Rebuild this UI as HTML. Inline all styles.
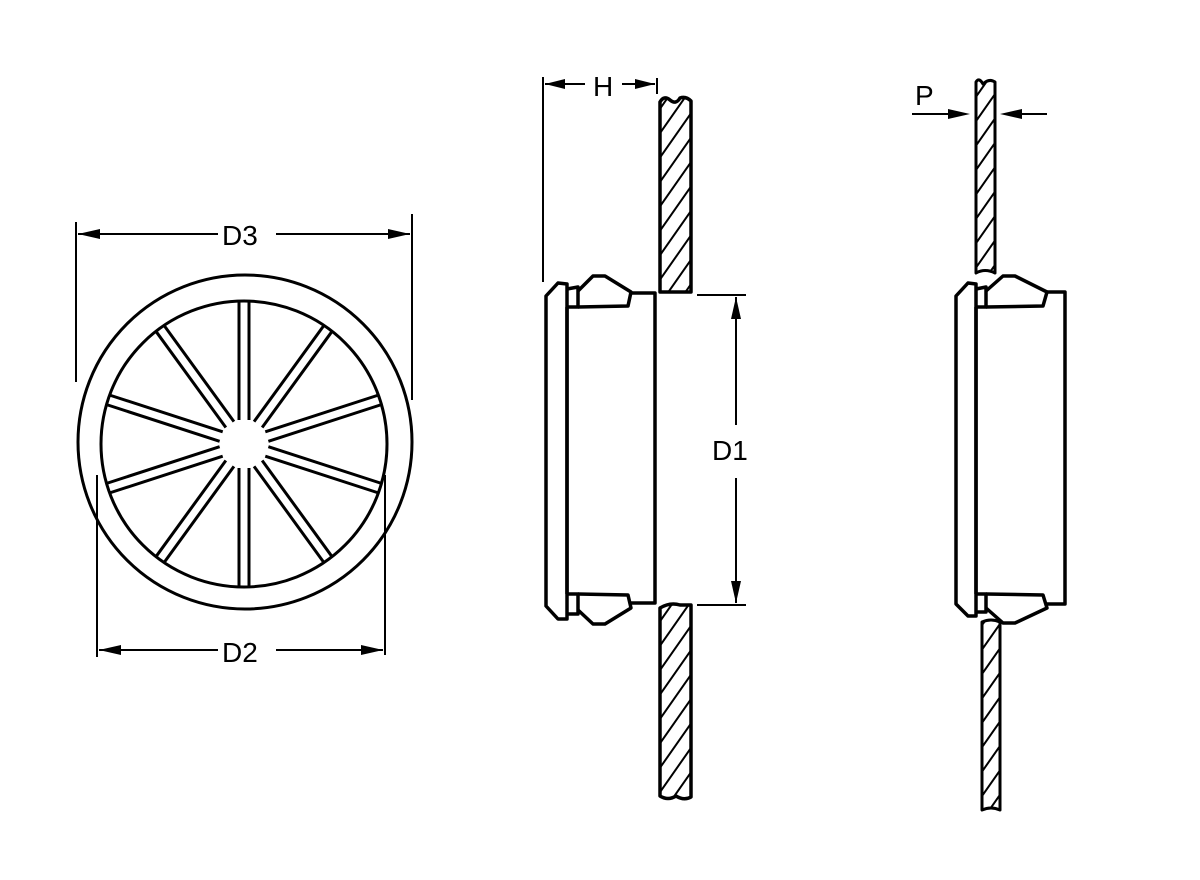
<!DOCTYPE html><html><head><style>body{margin:0;background:#fff}svg{display:block}text{font-family:"Liberation Sans",sans-serif;font-size:28px;fill:#000}</style></head><body>
<svg width="1200" height="880" viewBox="0 0 1200 880" xmlns="http://www.w3.org/2000/svg">
<defs>
<pattern id="h" width="14" height="14" patternUnits="userSpaceOnUse" patternTransform="rotate(35)"><line x1="0" y1="0" x2="0" y2="14" stroke="#000" stroke-width="4"/></pattern>
<g id="sp"><line x1="-5" y1="-24" x2="-5" y2="-142" stroke="#000" stroke-width="3"/><line x1="5" y1="-24" x2="5" y2="-142" stroke="#000" stroke-width="3"/></g>
</defs>
<g fill="none" stroke="#000" stroke-width="3">
<circle cx="245" cy="442" r="167"/>
<circle cx="244" cy="444" r="143"/>
</g>
<g transform="translate(244,444)">
<use href="#sp" transform="rotate(0)"/><use href="#sp" transform="rotate(36)"/><use href="#sp" transform="rotate(72)"/><use href="#sp" transform="rotate(108)"/><use href="#sp" transform="rotate(144)"/><use href="#sp" transform="rotate(180)"/><use href="#sp" transform="rotate(216)"/><use href="#sp" transform="rotate(252)"/><use href="#sp" transform="rotate(288)"/><use href="#sp" transform="rotate(324)"/>
</g>
<g stroke="#000" stroke-width="2" fill="none">
<line x1="76" y1="222" x2="76" y2="382"/><line x1="412" y1="214" x2="412" y2="400"/>
<line x1="78" y1="234" x2="218" y2="234"/><line x1="276" y1="234" x2="410" y2="234"/>
<line x1="97" y1="475" x2="97" y2="657"/><line x1="385" y1="475" x2="385" y2="655"/>
<line x1="99" y1="650" x2="218" y2="650"/><line x1="276" y1="650" x2="383" y2="650"/>
<line x1="543" y1="77" x2="543" y2="282"/><line x1="657" y1="78" x2="657" y2="94"/>
<line x1="545" y1="84" x2="585" y2="84"/><line x1="622" y1="84" x2="655" y2="84"/>
<line x1="697" y1="295" x2="746" y2="295"/><line x1="697" y1="605" x2="746" y2="605"/>
<line x1="736" y1="297" x2="736" y2="425"/><line x1="736" y1="478" x2="736" y2="603"/>
<line x1="912" y1="114" x2="960" y2="114"/><line x1="1047" y1="114" x2="1010" y2="114"/>
</g>
<g fill="#000">
<path d="M78,234 l22,-5 v10z"/><path d="M410,234 l-22,-5 v10z"/>
<path d="M99,650 l22,-5 v10z"/><path d="M383,650 l-22,-5 v10z"/>
<path d="M545,84 l20,-5 v10z"/><path d="M655,84 l-20,-5 v10z"/>
<path d="M736,297 l-5,22 h10z"/><path d="M736,603 l-5,-22 h10z"/>
<path d="M970,114 l-22,-5 v10z"/><path d="M1000,114 l22,-5 v10z"/>
</g>
<text x="222" y="245">D3</text><text x="222" y="662">D2</text><text x="593" y="96">H</text><text x="712" y="460">D1</text><text x="915" y="105">P</text>
<g fill="none" stroke="#000" stroke-width="3.5" stroke-linejoin="round">
<path d="M567,284 L558,283 L546,296 L546,606 L558,619 L567,619 Z"/>
<path d="M567,289 L578,287 L578,307 L567,307"/><path d="M567,594 L578,594 L578,614 L567,614"/>
<line x1="567" y1="307" x2="567" y2="594"/>
<path d="M578,291 L593,276 L605,276 L631,292 L628,306 L578,307"/>
<path d="M578,610 L593,624 L605,624 L631,608 L628,595 L578,594"/>
<path d="M631,293 L655,293 L655,603 L631,603"/>
</g>
<g stroke="#000" stroke-width="3.5" stroke-linejoin="round">
<path d="M660,292 L660,102 Q664,95 670,100 Q676,105 680,98 Q686,96 691,101 L691,292 Z" fill="url(#h)"/>
<path d="M660,608 Q670,602 680,605 L691,605 L691,797 Q684,801 676,796 Q668,801 660,796 Z" fill="url(#h)"/>
</g>
<g fill="none" stroke="#000" stroke-width="3.5" stroke-linejoin="round">
<path d="M976,284 L968,283 L956,296 L956,604 L968,616 L976,616 Z"/>
<path d="M976,289 L986,287 L986,307 L976,307"/><path d="M976,594 L986,594 L986,612 L976,612"/>
<line x1="976" y1="307" x2="976" y2="594"/>
<path d="M986,291 L1003,276 L1015,276 L1047,292 L1043,306 L986,307"/>
<path d="M986,608 L1003,623 L1015,623 L1047,608 L1043,595 L986,594"/>
<path d="M1047,292 L1065,292 L1065,604 L1047,604"/>
</g>
<g stroke="#000" stroke-width="3" stroke-linejoin="round">
<path d="M976,273 L976,82 Q979,77 983,84 Q989,78 995,82 L995,273 Q985,268 976,273 Z" fill="url(#h)"/>
<path d="M982,622 Q991,618 1000,622 L1000,810 Q991,806 982,810 Z" fill="url(#h)"/>
</g>
</svg></body></html>
